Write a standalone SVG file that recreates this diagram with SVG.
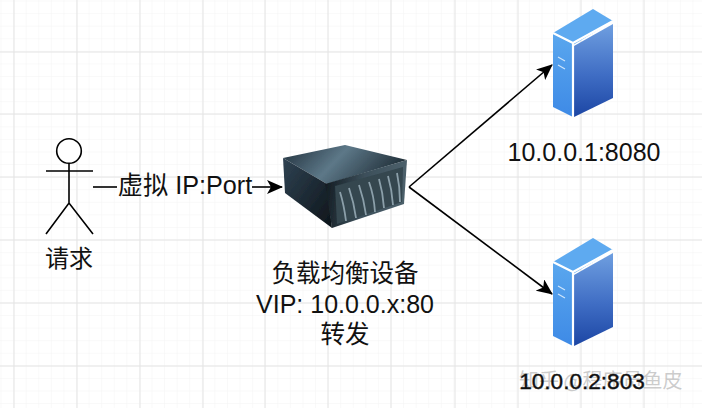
<svg xmlns="http://www.w3.org/2000/svg" width="702" height="408" viewBox="0 0 702 408">
<defs>
<pattern id="minor" width="12.58" height="12.58" patternUnits="userSpaceOnUse" x="1.5" y="1.5"><path d="M12.58 0V12.58H0" fill="none" stroke="#f3f3f3" stroke-width="1"/></pattern>
<linearGradient id="bf" x1="0" y1="0" x2="0" y2="1"><stop offset="0" stop-color="#6f9fe0"/><stop offset="0.55" stop-color="#3f6dc4"/><stop offset="1" stop-color="#1c46a4"/></linearGradient>
<linearGradient id="bs" x1="0" y1="0" x2="0" y2="1"><stop offset="0" stop-color="#5aa7ee"/><stop offset="1" stop-color="#3e8ae6"/></linearGradient>
<linearGradient id="mt" x1="0" y1="0" x2="1" y2="0.3"><stop offset="0" stop-color="#1f2e3a"/><stop offset="0.5" stop-color="#5d7888"/><stop offset="1" stop-color="#23323c"/></linearGradient>
<linearGradient id="ml" x1="0" y1="0" x2="1" y2="1"><stop offset="0" stop-color="#2f4252"/><stop offset="1" stop-color="#0d1419"/></linearGradient>
<linearGradient id="mf" x1="0" y1="0" x2="1" y2="0.1"><stop offset="0" stop-color="#10181e"/><stop offset="0.5" stop-color="#3c4f5a"/><stop offset="1" stop-color="#4c606b"/></linearGradient>
<filter id="soft" x="-5%" y="-5%" width="110%" height="110%"><feGaussianBlur stdDeviation="0.7"/></filter>
<marker id="ah" viewBox="0 0 16 14" refX="15" refY="7" markerWidth="16" markerHeight="14" markerUnits="userSpaceOnUse" orient="auto"><path d="M0 0L16 7L0 14L4 7Z" fill="#000"/></marker>
<g id="srv">
<polygon points="553,33 593,9 613,21 573,45" fill="#5eaaf0"/>
<polygon points="553,33 573,44 573,117 553,107" fill="url(#bs)"/>
<polygon points="574,46 613,24 613,98 574,117" fill="url(#bf)"/>
<path d="M553 33L573 43L613 21M573 43V117" fill="none" stroke="#fff" stroke-width="2.2"/>
<path d="M558 57L565 61M558 65L565 69" stroke="#cfe6fb" stroke-width="1.2"/>
</g>
</defs>
<style>
.t{font-family:"Liberation Sans","Noto Sans CJK SC",sans-serif;fill:#111;text-anchor:middle}
.c{fill:none;stroke:#000;stroke-width:1.6}
.g{stroke:#e4e4e4;stroke-width:1;fill:none}
</style>
<rect width="702" height="408" fill="#fff"/>
<rect width="702" height="408" fill="url(#minor)"/>
<path class="g" d="M14 0V408M77 0V408M140 0V408M203 0V408M265 0V408M328 0V408M391 0V408M455 0V408M518 0V408M581 0V408M644 0V408M0 52H702M0 114H702M0 177H702M0 240H702M0 303H702M0 366H702"/>
<g id="connectors">
<path class="c" d="M93 187H117"/>
<path class="c" d="M252 187H282" marker-end="url(#ah)"/>
<path class="c" d="M409 187L552 65" marker-end="url(#ah)"/>
<path class="c" d="M409 187L552 294" marker-end="url(#ah)"/>
</g>
<g id="user">
<circle cx="69" cy="151" r="12.3" fill="#fff" stroke="#000" stroke-width="1.6"/>
<path class="c" d="M69 163V203M46 171H93M46 234L69 203L93 234"/>
<text class="t" x="69" y="267" font-size="24">请求</text>
</g>
<text class="t" x="185" y="194" font-size="25.2" id="link-label">虚拟 IP:Port</text>
<g id="balancer">
<g filter="url(#soft)">
<polygon points="283,158 345,145 407,160 327,184" fill="url(#mt)"/>
<polygon points="283,158 327,184 332,228 285,193" fill="url(#ml)"/>
<polygon points="325,184 407,160 404,204 332,228" fill="url(#mf)"/>
<polygon points="335,186 403,167 402,202 337,224" fill="#34464f"/>
<path d="M340 192Q344 205 346 221M349 188Q354 203 356 218M359 185Q364 200 366 215M369 182Q374 196 375 212M379 179Q383 193 384 208M388 176Q392 190 393 205M397 173Q400 187 400 202" stroke="#8b9fa9" stroke-width="1.8" fill="none"/>
</g>
<text class="t" x="345" y="282" font-size="24.5">负载均衡设备</text>
<text class="t" x="345" y="313" font-size="25">VIP: 10.0.0.x:80</text>
<text class="t" x="345" y="343" font-size="24.5">转发</text>
</g>
<g id="server1">
<use href="#srv"/>
<text class="t" x="584" y="161" font-size="25">10.0.0.1:8080</text>
</g>
<text id="watermark" x="519" y="388" font-size="20" font-family="'Noto Sans CJK SC',sans-serif" fill="#999" fill-opacity="0.5">知乎 @程序员鱼皮</text>
<g id="server2">
<use href="#srv" y="229"/>
<text class="t" x="582" y="389" font-size="22.6" stroke="#111" stroke-width="0.4">10.0.0.2:803</text>
</g>
</svg>
